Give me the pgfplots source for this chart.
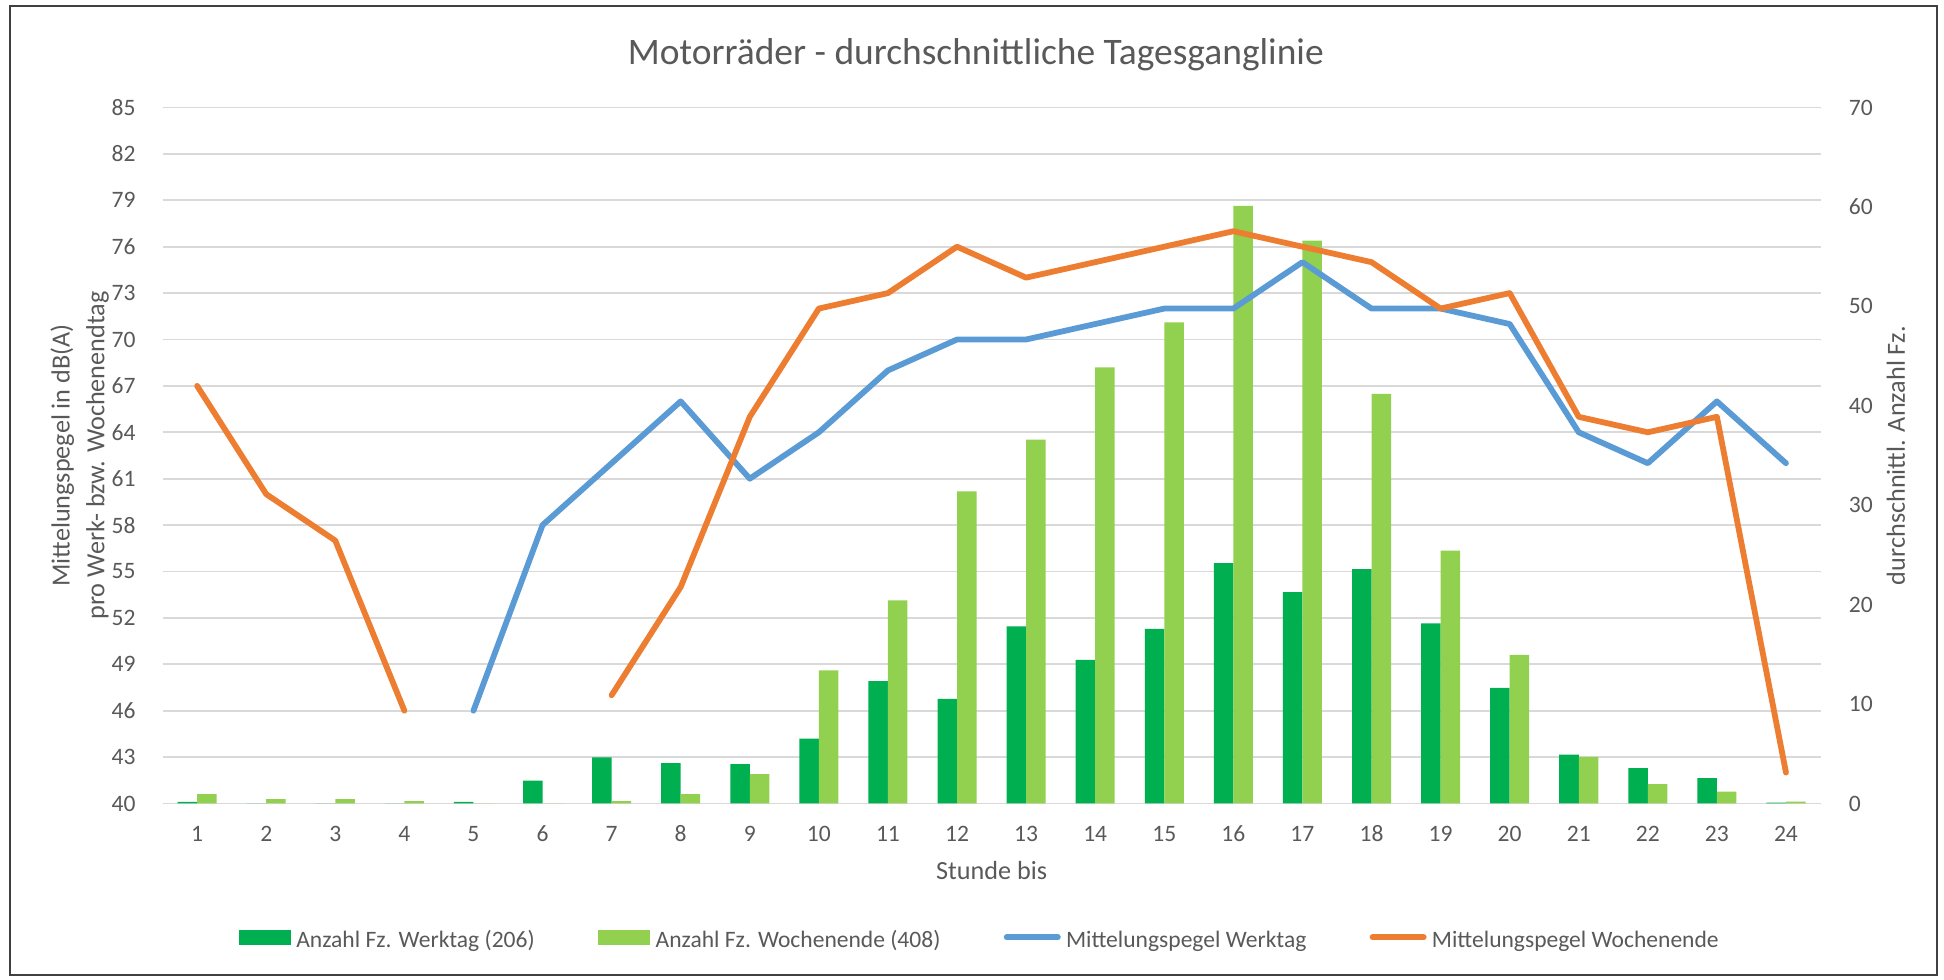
\documentclass[border=0pt]{standalone}
\usepackage{pgfplots}
\usepackage{pgfplotstable}
\pgfplotsset{compat=1.18}
\usepackage{fontspec}
\setmainfont{Carlito}
\definecolor{txt}{HTML}{595959}
\definecolor{dgreen}{HTML}{00B050}
\definecolor{lgreen}{HTML}{92D050}
\definecolor{lblue}{HTML}{5B9BD5}
\definecolor{lorange}{HTML}{ED7D31}
\definecolor{gridc}{HTML}{D9D9D9}

\pgfplotstableread{
h werk wochen
1 0.17 0.94
2 0 0.45
3 0 0.45
4 0 0.25
5 0.17 0
6 2.3 0
7 4.65 0.25
8 4.05 0.94
9 3.95 2.95
10 6.53 13.4
11 12.32 20.43
12 10.52 31.38
13 17.82 36.6
14 14.45 43.85
15 17.55 48.4
16 24.17 60.1
17 21.27 56.6
18 23.57 41.2
19 18.12 25.42
20 11.62 14.94
21 4.92 4.69
22 3.55 1.94
23 2.55 1.2
24 0.1 0.2
}\bars

\pgfplotstableread{
h werk wochen
1 nan 67
2 nan 60
3 nan 57
4 nan 46
5 46 nan
6 58 nan
7 62 47
8 66 54
9 61 65
10 64 72
11 68 73
12 70 76
13 70 74
14 71 75
15 72 76
16 72 77
17 75 76
18 72 75
19 72 72
20 71 73
21 64 65
22 62 64
23 66 65
24 62 42
}\pegel

\newcommand{\tickfont}{\fontsize{6.7}{8}\selectfont}
\newcommand{\labfont}{\fontsize{7.45}{9.9}\selectfont}

\pgfplotsset{
  base/.style={
    scale only axis,
    width=16.579cm, height=6.96cm,
    at={(1.626cm,1.755cm)}, anchor=south west,
    xmin=0.5, xmax=24.5,
    axis line style={draw=none},
    major tick length=0pt,
    tick label style={font=\tickfont, text=txt},
    /pgf/number format/assume math mode=true,
    label style={font=\labfont, text=txt},
  }
}

\begin{document}
\begin{tikzpicture}[x=1cm,y=1cm]
\path (0,0) rectangle (19.44,9.79);
\draw[black!75, line width=0.6pt] (0.10,0.04) rectangle (19.37,9.73);
\node[font=\fontsize{10.65}{12.5}\selectfont, text=txt, anchor=base] at (9.758,9.146) {Motorräder - durchschnittliche Tagesganglinie};

% grid + left axis + x axis
\begin{axis}[base,
  ymin=40, ymax=85, ytick={40,43,...,85},
  xtick={1,...,24},
  ymajorgrids, grid style={gridc, line width=0.56pt},
  yticklabel style={anchor=east, xshift=-0.147cm},
  xticklabel style={anchor=base, yshift=-0.38cm},
  xlabel={Stunde bis},
  xlabel style={at={(axis description cs:0.5,-0.1099)}, anchor=base},
  ylabel={Mittelungspegel in dB(A)\\pro Werk- bzw. Wochenendtag},
  ylabel style={at={(axis description cs:-0.05006,0.5)}, anchor=center, align=center},
]
\addplot[draw=none, forget plot] coordinates {(1,40)};
\end{axis}

% bars, right axis
\begin{axis}[base,
  ymin=0, ymax=70, ytick={0,10,...,70},
  axis y line*=right, hide x axis,
  yticklabel style={anchor=west, xshift=0.159cm},
  ylabel={durchschnittl. Anzahl Fz.},
  ylabel style={at={(axis description cs:1.0455,0.5)}, anchor=center},
]
\addplot[ybar, bar width=0.2824, bar shift=-0.1412, fill=dgreen, draw=none] table[x=h, y=werk] {\bars};
\addplot[ybar, bar width=0.2824, bar shift=0.1412, fill=lgreen, draw=none] table[x=h, y=wochen] {\bars};
\end{axis}

% lines
\begin{axis}[base,
  ymin=40, ymax=85, hide axis,
  unbounded coords=jump,
  legend columns=4,
  legend style={at={(axis description cs:0.4938,-0.199)}, anchor=center,
    draw=none, fill=none, font=\tickfont, text=txt, inner sep=0pt,
    nodes={inner xsep=1.5pt},
    /tikz/every even column/.append style={column sep=0.58cm}},
  legend cell align=left,
]
\addlegendimage{legend image code/.code={\fill[dgreen] (0cm,-0.02cm) rectangle (0.51cm,0.114cm);}}
\addlegendentry{Anzahl Fz. Werktag (206)}
\addlegendimage{legend image code/.code={\fill[lgreen] (0cm,-0.02cm) rectangle (0.51cm,0.114cm);}}
\addlegendentry{Anzahl Fz. Wochenende (408)}
\addlegendimage{legend image code/.code={\draw[lblue, line width=1.7pt, line cap=round] (0.02cm,0.047cm) -- (0.53cm,0.047cm);}}
\addlegendentry{Mittelungspegel Werktag}
\addlegendimage{legend image code/.code={\draw[lorange, line width=1.7pt, line cap=round] (0.02cm,0.047cm) -- (0.53cm,0.047cm);}}
\addlegendentry{Mittelungspegel Wochenende}
\addplot[lblue, line width=1.65pt, line join=round, line cap=round, forget plot] table[x=h, y=werk] {\pegel};
\addplot[lorange, line width=1.65pt, line join=round, line cap=round, forget plot] table[x=h, y=wochen] {\pegel};
\end{axis}
\end{tikzpicture}
\end{document}
